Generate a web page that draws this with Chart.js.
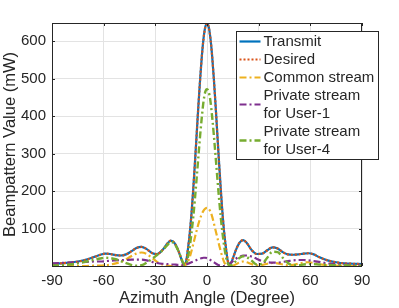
<!DOCTYPE html>
<html><head><meta charset="utf-8">
<script src="https://cdn.jsdelivr.net/npm/chart.js@4.4.0/dist/chart.umd.min.js"></script>
<style>html,body{margin:0;padding:0;background:#fff;overflow:hidden}#wrap{width:399px;height:308px}</style>
</head><body><div id="wrap"><canvas id="c" width="399" height="308"></canvas></div>
<script>
const angles = [-90,-85,-80,-75,-70,-65,-62,-59,-56,-53,-50,-47,-44,-41,-38,-35,-32,-29,-26,-23,-21,-19,-17,-15,-14,-13,-12,-11,-10,-9,-8,-7,-6,-5,-4,-3,-2,-1,0,1,2,3,4,5,6,7,8,9,10,11,12,13,14,15,17,19,21,23,26,29,32,35,38,41,44,47,50,53,56,59,62,65,70,75,80,85,90];
const transmit = [5,7,9,12,17,25,30, 33,32,29,28,31,39,48, 51,45,35,32,42,60,68, 62,45,20,8,3,15, 48,88,140,204,276,352,428,498,560,608,638, 648, 638,608,560,498,428,352,276,204,140,88,48, 15,3,8,20, 45,63,69,62,42,32, 33,42,50,47,37,31,30, 31,33,34,31,24,15,10,7,6,5];
const desired = [5,7,9,12,17,25,30, 33,32,29,28,31,39,48, 51,45,35,32,42,60,68, 62,45,20,8,3,15, 48,88,140,204,276,352,428,498,560,608,638, 648, 638,608,560,498,428,352,276,204,140,88,48, 15,3,8,20, 45,63,69,62,42,32, 33,42,50,47,37,31,30, 31,33,34,31,24,15,10,7,6,5];
const commonStream = [0,0,0,0,0,1,1, 2,4,7,11,18,26,33, 36,32,22,11,4,1,0, 0,0,0,0,1,5, 12,24,40,58,77,95,112,127,139,148,153, 155, 153,145,132,114,95,76,57,39,23,10,3, 0,0,0,1, 5,10,12,10,5,2, 3,6,8,7,4,2,3, 6,9,10,8,5,2,1,0,0,0];
const privateUser1 = [7,8,9,10,11,12,12, 13,14,15,16,16,17,17, 17,15,11,8,6,5,4, 4,3,3,3,3,4, 6,8,10,12,14,16,18,20,21,22,22, 21, 19,16,13,10,7,4,2,1,0,0,1, 3,6,9,13, 20,25,28,28,25,19, 13,10,9,9,11,13,15, 16,16,15,13,11,7,5,4,3,3];
const privateUser4 = [1,2,4,7,12,17,20, 22,21,18,13,8,3,1, 2,9,19,29,41,56,64, 60,44,22,10,3,6, 25,52,88,130,180,235,292,348,398,440,465, 472, 465,440,398,348,292,235,180,130,88,52,25, 8,2,2,5, 14,22,26,24,14,4, 6,22,38,37,22,8,2, 2,4,5,5,4,3,2,2,1,1];
const xTicks = [-90,-60,-30,0,30,60,90];
const yTicks = [100,200,300,400,500,600];
const seriesNames = ['Transmit','Desired','Common stream','Private stream\nfor User-1','Private stream\nfor User-4'];

const FONT = "'Liberation Sans', Arial, Helvetica, sans-serif";
const TXT = '#262626';
Chart.defaults.font.family = FONT;
Chart.defaults.color = TXT;

function pts(arr){ return angles.map((a,i)=>({x:a,y:arr[i]})); }
const dashDot = [7,3,2,3];
const datasets = [
  {label:seriesNames[0], data:pts(transmit), borderColor:'#0072BD', borderWidth:2.2, borderDash:[], order:5},
  {label:seriesNames[1], data:pts(desired), borderColor:'#D95319', borderWidth:2.2, borderDash:[2,2], order:4},
  {label:seriesNames[2], data:pts(commonStream), borderColor:'#EDB120', borderWidth:2.2, borderDash:dashDot, order:3},
  {label:seriesNames[3], data:pts(privateUser1), borderColor:'#7E2F8E', borderWidth:2.2, borderDash:dashDot, order:2},
  {label:seriesNames[4], data:pts(privateUser4), borderColor:'#77AC30', borderWidth:2.4, borderDash:dashDot, order:1}
];
datasets.forEach(d=>{d.pointRadius=0;d.fill=false;d.tension=0.4;d.cubicInterpolationMode='monotone';});

const boxPlugin = {
  id:'box',
  afterDatasetsDraw(chart){
    const {ctx, chartArea:a, scales} = chart;
    ctx.save();
    ctx.strokeStyle = TXT; ctx.lineWidth = 1;
    ctx.strokeRect(Math.round(a.left)+0.5, Math.round(a.top)+0.5, Math.round(a.right-a.left)-1, Math.round(a.bottom-a.top));
    const tl = 3;
    ctx.beginPath();
    xTicks.forEach(v=>{ const x=Math.round(scales.x.getPixelForValue(v))+0.5;
      ctx.moveTo(x,a.bottom); ctx.lineTo(x,a.bottom-tl); ctx.moveTo(x,a.top); ctx.lineTo(x,a.top+tl); });
    yTicks.forEach(v=>{ const y=Math.round(scales.y.getPixelForValue(v))+0.5;
      ctx.moveTo(a.left,y); ctx.lineTo(a.left+tl,y); ctx.moveTo(a.right,y); ctx.lineTo(a.right-tl,y); });
    ctx.stroke();
    ctx.restore();
  }
};

const legendPlugin = {
  id:'mlegend',
  afterDraw(chart){
    const ctx = chart.ctx;
    const bx=236.5, by=31.5, bw=142, bh=128, lh=18;
    ctx.save();
    ctx.fillStyle='#fff'; ctx.fillRect(bx,by,bw,bh);
    ctx.strokeStyle='#262626'; ctx.lineWidth=1; ctx.strokeRect(bx,by,bw,bh);
    ctx.font = '15px ' + FONT; ctx.textBaseline='middle'; ctx.textAlign='left';
    let row = 0;
    datasets.forEach(d=>{
      const lines = d.label.split('\n');
      const y0 = by + 10 + row*lh;
      const ym = y0 + (lines.length-1)*lh/2;
      ctx.strokeStyle=d.borderColor; ctx.lineWidth=d.borderWidth; ctx.setLineDash(d.borderDash);
      ctx.beginPath(); ctx.moveTo(bx+3, ym); ctx.lineTo(bx+24, ym); ctx.stroke();
      ctx.setLineDash([]);
      ctx.fillStyle=TXT;
      lines.forEach((t,k)=>ctx.fillText(t, bx+27, y0+k*lh));
      row += lines.length;
    });
    ctx.restore();
  }
};

new Chart(document.getElementById('c'), {
  type:'line',
  data:{datasets},
  options:{
    responsive:false, animation:false,
    layout:{padding:{top:23,right:37,left:0,bottom:0}},
    plugins:{legend:{display:false}, tooltip:{enabled:false}},
    scales:{
      x:{type:'linear', min:-90, max:90,
        afterBuildTicks(s){ s.ticks = xTicks.map(v=>({value:v})); },
        afterFit(s){ s.height = 42; },
        grid:{color:'#e3e3e3', drawTicks:false},
        border:{display:false},
        ticks:{font:{size:15}, color:TXT, padding:6, maxRotation:0},
        title:{display:true, text:'Azimuth Angle (Degree)', font:{size:16.5}, color:TXT, padding:{top:0,bottom:0}}
      },
      y:{type:'linear', min:0, max:649,
        afterBuildTicks(s){ s.ticks = yTicks.map(v=>({value:v})); },
        afterFit(s){ s.width = 52; },
        grid:{color:'#e3e3e3', drawTicks:false},
        border:{display:false},
        ticks:{font:{size:15}, color:TXT, padding:6},
        title:{display:true, text:'Beampattern Value (mW)', font:{size:16.5}, color:TXT, padding:{top:1,bottom:0}}
      }
    }
  },
  plugins:[boxPlugin, legendPlugin]
});
</script></body></html>
